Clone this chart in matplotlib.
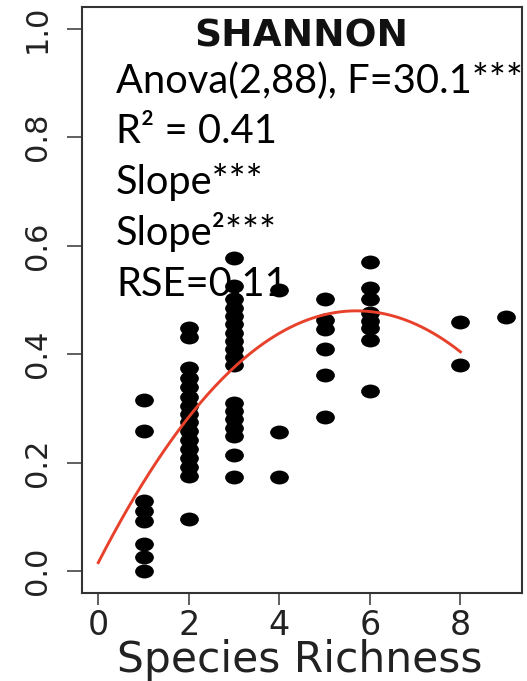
import numpy as np
import matplotlib
matplotlib.use("Agg")
import matplotlib.pyplot as plt
from matplotlib.path import Path
from matplotlib.transforms import Affine2D

# data
richness_1 = [0.316, 0.258, 0.130, 0.112, 0.093, 0.050, 0.026, 0.0]
richness_2 = [0.449, 0.431, 0.375, 0.357, 0.340, 0.322, 0.305, 0.290, 0.275,
              0.258, 0.242, 0.225, 0.208, 0.192, 0.176, 0.096]
richness_3 = [0.578, 0.526, 0.501, 0.485, 0.470, 0.455, 0.440, 0.425, 0.410,
              0.395, 0.380, 0.310, 0.295, 0.280, 0.265, 0.250, 0.215, 0.173]
richness_4 = [0.519, 0.257, 0.173]
richness_5 = [0.501, 0.464, 0.446, 0.410, 0.361, 0.284]
richness_6 = [0.570, 0.522, 0.502, 0.476, 0.461, 0.449, 0.426, 0.332]
richness_8 = [0.459, 0.380]
richness_9 = [0.468]

groups = {1: richness_1, 2: richness_2, 3: richness_3, 4: richness_4,
          5: richness_5, 6: richness_6, 8: richness_8, 9: richness_9}

# quadratic fit shown in red (intercept, slope, slope^2)
fit_coef = [0.016, 0.1628, -0.01428]
fit_range = [0, 8]

x_ticks = [0, 2, 4, 6, 8]
y_ticks = [0.0, 0.2, 0.4, 0.6, 0.8, 1.0]

title = "SHANNON"
stats_lines = ["Anova(2,88), F=30.1***", "R\u00b2 = 0.41", "Slope***",
               "Slope\u00b2***", "RSE=0.11"]

W, H = 527, 681
fig = plt.figure(figsize=(W / 100, H / 100), dpi=100)
ax = fig.add_axes([82 / W, 1 - 593 / H, (522 - 82) / W, (593 - 7) / H])

# points look a bit wider than tall in the picture
circ = Path.unit_circle()
ellipse = circ.transformed(Affine2D().scale(1.35, 1.0))

xs, ys = [], []
for k, vals in groups.items():
    xs += [k] * len(vals)
    ys += vals
ax.plot(xs, ys, linestyle="none", marker=ellipse, markersize=13.5,
        color="black", markeredgewidth=0)

xf = np.linspace(fit_range[0], fit_range[1], 200)
yf = fit_coef[0] + fit_coef[1] * xf + fit_coef[2] * xf ** 2
ax.plot(xf, yf, color="#e8412b", linewidth=2.1)

ax.set_xlim(-0.36, 9.36)
ax.set_ylim(-0.04, 1.04)
ax.set_xticks(x_ticks)
ax.set_yticks(y_ticks)
ax.set_xticklabels([str(t) for t in x_ticks], fontsize=24, color="#222222")
ax.set_yticklabels(["%.1f" % t for t in y_ticks], fontsize=22,
                   rotation=90, va="center", color="#222222")
ax.tick_params(axis="x", direction="out", length=8.6, width=1.2,
               color="#444444", pad=3)
ax.tick_params(axis="y", direction="out", length=10.8, width=1.2,
               color="#444444", pad=11)
for s in ax.spines.values():
    s.set_color("#333333")
    s.set_linewidth(1.5)

fig.text(300 / W, 1 - 672 / H, "Species Richness", fontsize=30.5,
         ha="center", va="baseline", color="#222222")

fig.text(301 / W, 1 - 46.5 / H, title, fontsize=27, fontweight="bold",
         ha="center", va="baseline", color="#111111")

baselines = [93, 143, 194, 245, 296]
for line, yb in zip(stats_lines, baselines):
    fig.text(116 / W, 1 - yb / H, line, fontsize=28.7, family="Lato",
             ha="left", va="baseline", color="black")

fig.savefig("out.png", dpi=100)
